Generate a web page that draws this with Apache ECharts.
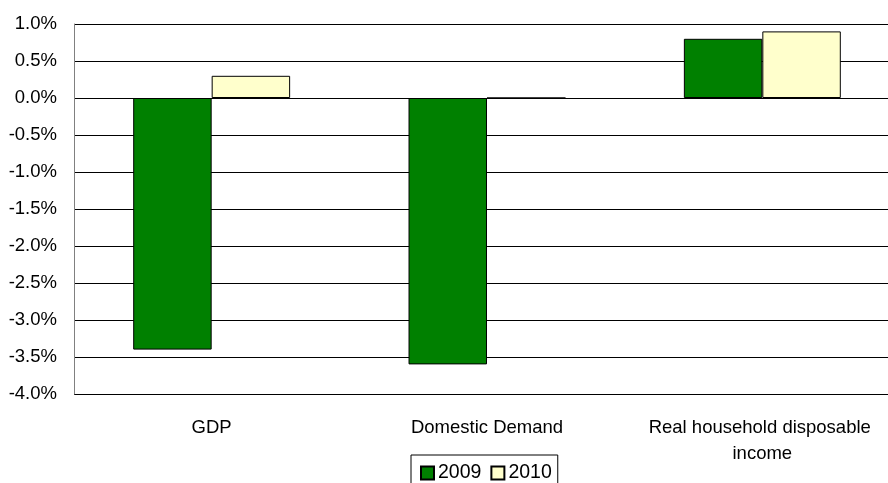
<!DOCTYPE html>
<html>
<head>
<meta charset="utf-8">
<script src="https://cdn.jsdelivr.net/npm/echarts@6/dist/echarts.min.js"></script>
<style>
  html, body { margin: 0; padding: 0; background: #fff; overflow: hidden; }
  #chart { width: 900px; height: 483px; }
</style>
</head>
<body>
<div id="chart"></div>
<script>
// Annual growth rates, in percent
const categories = ['GDP', 'Domestic Demand', 'Real household disposable income'];
const seriesNames = ['2009', '2010'];
const values2009 = [-3.4, -3.6, 0.8];
const values2010 = [0.3, 0, 0.9];
const yMin = -4.0;
const yMax = 1.0;
const yStep = 0.5;

const FONT = '"Liberation Sans", Arial, sans-serif';

const chart = echarts.init(document.getElementById('chart'), null, { renderer: 'canvas' });

chart.setOption({
  animation: false,
  backgroundColor: '#ffffff',
  textStyle: { fontFamily: FONT, color: '#000' },
  grid: { left: 74, top: 24, right: 0, height: 370, containLabel: false },
  legend: {
    data: seriesNames,
    left: 411,
    top: 455,
    orient: 'horizontal',
    itemWidth: 13,
    itemHeight: 13,
    itemGap: 9,
    padding: [7, 6, 6, 9],
    borderColor: '#000',
    borderWidth: 1,
    backgroundColor: '#fff',
    icon: 'rect',
    textStyle: { fontFamily: FONT, fontSize: 19.5, lineHeight: 22, color: '#000', padding: [0, 0, 0, -1] }
  },
  xAxis: {
    type: 'category',
    data: categories,
    axisLine: { show: false },
    axisTick: { show: false },
    axisLabel: {
      margin: 21,
      fontFamily: FONT,
      fontSize: 18.5,
      lineHeight: 26,
      color: '#000',
      width: 240,
      overflow: 'break',
      interval: 0
    }
  },
  yAxis: {
    type: 'value',
    min: yMin,
    max: yMax,
    interval: yStep,
    axisLine: { show: true, lineStyle: { color: '#808080', width: 1 } },
    axisTick: { show: false },
    splitLine: { show: true, lineStyle: { color: '#000', width: 1 } },
    axisLabel: {
      margin: 17,
      fontFamily: FONT,
      fontSize: 18.5,
      color: '#000',
      formatter: v => v.toFixed(1) + '%'
    }
  },
  series: [
    {
      name: seriesNames[0],
      type: 'bar',
      data: values2009,
      barGap: '0%',
      barCategoryGap: '43%',
      itemStyle: { color: '#008000', borderColor: '#000', borderWidth: 1 }
    },
    {
      name: seriesNames[1],
      type: 'bar',
      data: values2010,
      barGap: '0%',
      barCategoryGap: '43%',
      itemStyle: { color: '#ffffcc', borderColor: '#000', borderWidth: 1 }
    }
  ]
});
</script>
</body>
</html>
